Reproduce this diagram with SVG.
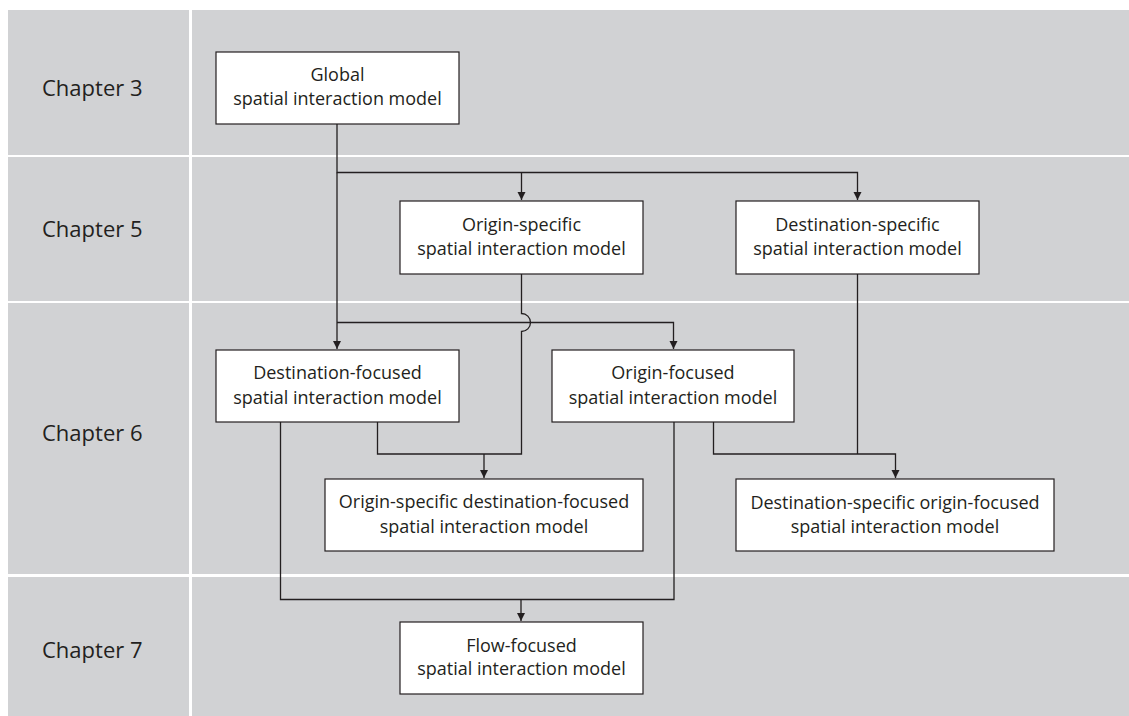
<svg xmlns="http://www.w3.org/2000/svg" width="1129" height="716" viewBox="0 0 1129 716">
<defs>
<style>
.bg{fill:#d1d2d4}
.box{fill:#ffffff;stroke:#231f20;stroke-width:1.2}
.t{font-family:"Open Sans","Noto Sans","Liberation Sans",sans-serif;font-size:18px;fill:#231f20;text-anchor:middle}
.ch{font-family:"Open Sans","Noto Sans","Liberation Sans",sans-serif;font-size:22px;fill:#231f20}
.ln{fill:none;stroke:#231f20;stroke-width:1.3}
</style>
<marker id="ah" markerWidth="10" markerHeight="10" refX="8" refY="5" orient="auto" markerUnits="userSpaceOnUse">
<path d="M0,1 L8,5 L0,9 Z" fill="#231f20"/>
</marker>
</defs>
<rect width="1129" height="716" fill="#ffffff"/>
<g id="grid">
<rect class="bg" x="8" y="10" width="181" height="145"/>
<rect class="bg" x="192" y="10" width="937" height="145"/>
<rect class="bg" x="8" y="157" width="181" height="144"/>
<rect class="bg" x="192" y="157" width="937" height="144"/>
<rect class="bg" x="8" y="303" width="181" height="271"/>
<rect class="bg" x="192" y="303" width="937" height="271"/>
<rect class="bg" x="8" y="577" width="181" height="139"/>
<rect class="bg" x="192" y="577" width="937" height="139"/>
<text class="ch" x="42" y="96">Chapter 3</text>
<text class="ch" x="42" y="237">Chapter 5</text>
<text class="ch" x="42" y="441">Chapter 6</text>
<text class="ch" x="42" y="658">Chapter 7</text>
</g>
<g id="connectors">
<path class="ln" d="M337,124 V172.5 H857.5 V200" marker-end="url(#ah)"/>
<path class="ln" d="M521.5,172.5 V200" marker-end="url(#ah)"/>
<path class="ln" d="M337,172.5 V349" marker-end="url(#ah)"/>
<path class="ln" d="M337,322.5 H673.5 V349" marker-end="url(#ah)"/>
<path class="ln" d="M521.5,274 V313.5 A9,9 0 0 1 521.5,331.5 V454 H377.5 V422"/>
<path class="ln" d="M484,454 V478" marker-end="url(#ah)"/>
<path class="ln" d="M713.5,422 V454 H895.5 V478" marker-end="url(#ah)"/>
<path class="ln" d="M857.5,274 V454"/>
<path class="ln" d="M280.5,422 V599.5 H674 V422"/>
<path class="ln" d="M521,599.5 V621" marker-end="url(#ah)"/>
</g>
<g id="global">
<rect class="box" x="216" y="52" width="243" height="72"/>
<text class="t" x="337.5" y="81">Global</text>
<text class="t" x="337.5" y="105">spatial interaction model</text>
</g>
<g id="origin-specific">
<rect class="box" x="400" y="201" width="243" height="73"/>
<text class="t" x="521.5" y="231">Origin-specific</text>
<text class="t" x="521.5" y="255">spatial interaction model</text>
</g>
<g id="destination-specific">
<rect class="box" x="736" y="201" width="243" height="73"/>
<text class="t" x="857.5" y="231">Destination-specific</text>
<text class="t" x="857.5" y="255">spatial interaction model</text>
</g>
<g id="destination-focused">
<rect class="box" x="216" y="350" width="243" height="72"/>
<text class="t" x="337.5" y="379">Destination-focused</text>
<text class="t" x="337.5" y="404">spatial interaction model</text>
</g>
<g id="origin-focused">
<rect class="box" x="552" y="350" width="242" height="72"/>
<text class="t" x="673" y="379">Origin-focused</text>
<text class="t" x="673" y="404">spatial interaction model</text>
</g>
<g id="origin-specific-destination-focused">
<rect class="box" x="325" y="479" width="318" height="72"/>
<text class="t" x="484" y="508">Origin-specific destination-focused</text>
<text class="t" x="484" y="533">spatial interaction model</text>
</g>
<g id="destination-specific-origin-focused">
<rect class="box" x="736" y="479" width="318" height="72"/>
<text class="t" x="895" y="509">Destination-specific origin-focused</text>
<text class="t" x="895" y="533">spatial interaction model</text>
</g>
<g id="flow-focused">
<rect class="box" x="400" y="622" width="243" height="72"/>
<text class="t" x="521.5" y="652">Flow-focused</text>
<text class="t" x="521.5" y="675">spatial interaction model</text>
</g>
</svg>
